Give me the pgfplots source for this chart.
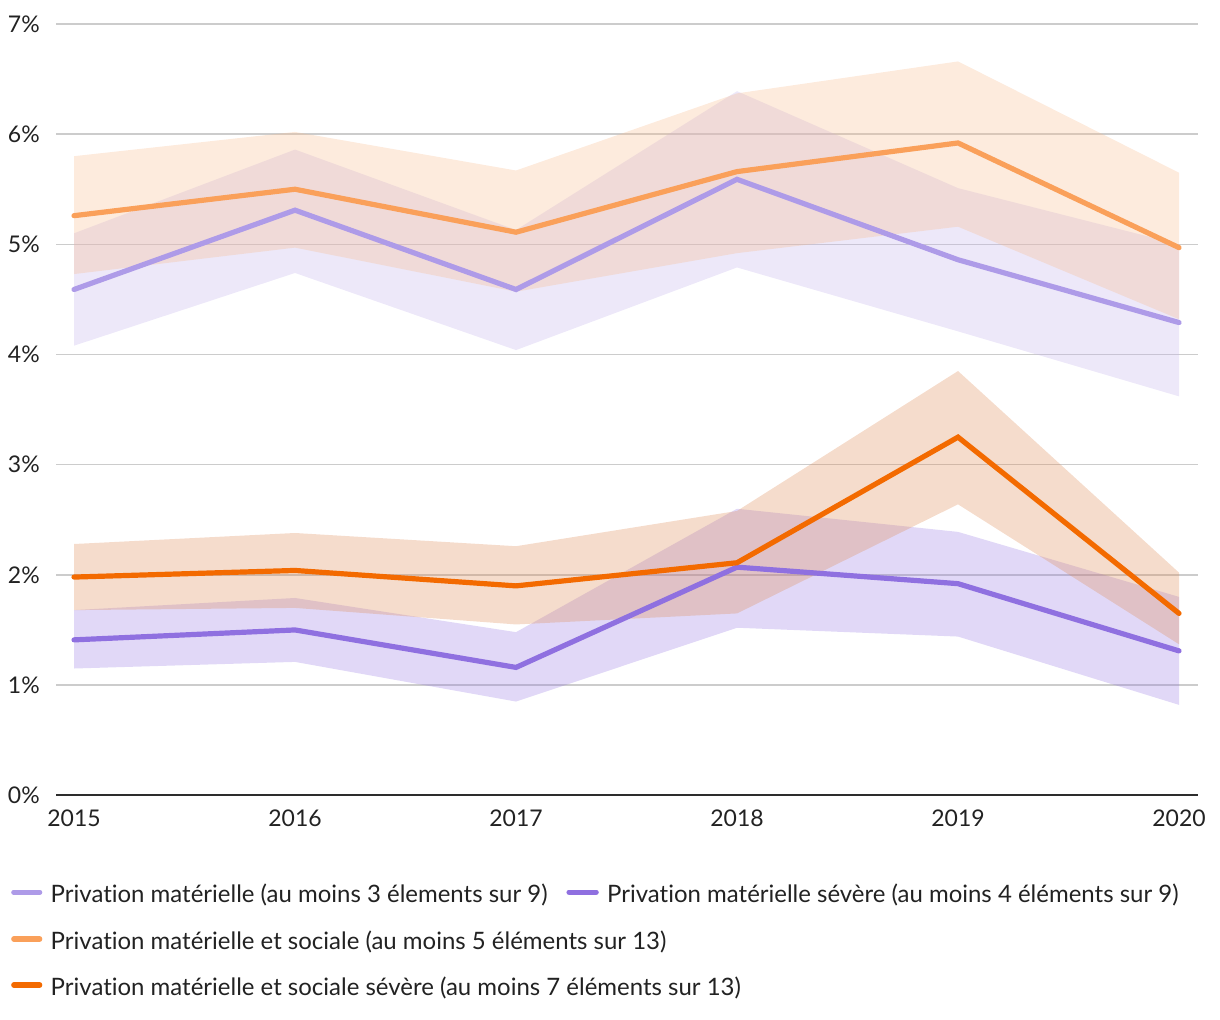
\documentclass[border=0pt]{standalone}
\usepackage{fontspec}
\setmainfont{Lato}[Ligatures={NoCommon,NoRequired,NoContextual}]
\usepackage{pgfplots}
\pgfplotsset{compat=1.18}
\usepackage{pgfplotstable}
\usepgfplotslibrary{fillbetween}

\definecolor{cA}{RGB}{174,155,232}
\definecolor{cB}{RGB}{143,112,224}
\definecolor{cC}{RGB}{250,160,90}
\definecolor{cD}{RGB}{243,106,0}
\definecolor{bA}{RGB}{195,178,235}
\definecolor{bB}{RGB}{143,112,224}
\definecolor{bC}{RGB}{248,188,142}
\definecolor{bD}{RGB}{222,138,85}
\definecolor{gridgray}{RGB}{204,204,204}
\definecolor{txt}{RGB}{34,34,34}

\pgfplotstableread{
year val lo hi
2015 4.59 4.08 5.10
2016 5.31 4.74 5.86
2017 4.59 4.04 5.13
2018 5.59 4.79 6.39
2019 4.86 4.21 5.51
2020 4.29 3.62 5.00
}\tA
\pgfplotstableread{
year val lo hi
2015 5.26 4.73 5.80
2016 5.50 4.97 6.02
2017 5.11 4.57 5.67
2018 5.66 4.92 6.37
2019 5.92 5.16 6.66
2020 4.97 4.32 5.65
}\tC
\pgfplotstableread{
year val lo hi
2015 1.41 1.15 1.68
2016 1.50 1.21 1.79
2017 1.16 0.85 1.48
2018 2.07 1.52 2.60
2019 1.92 1.44 2.39
2020 1.31 0.82 1.80
}\tB
\pgfplotstableread{
year val lo hi
2015 1.98 1.68 2.28
2016 2.04 1.70 2.38
2017 1.90 1.55 2.26
2018 2.11 1.65 2.58
2019 3.25 2.64 3.85
2020 1.65 1.37 2.02
}\tD

\begin{document}
\fontsize{12pt}{14pt}\selectfont
\begin{tikzpicture}
\begin{axis}[
  scale only axis, width=571.5pt, height=386pt,
  at={(0pt,0pt)}, anchor=south west,
  xmin=2014.919, xmax=2020.086, ymin=0, ymax=7,
  axis lines*=left,
  x axis line style={-, draw=txt!95, line width=1.1pt},
  y axis line style={draw=none},
  major tick length=0pt,
  tick style={draw=none},
  xtick={2015,2016,2017,2018,2019,2020},
  ytick={0,1,2,3,4,5,6,7},
  ymajorgrids, grid style={gridgray, line width=0.8pt},
  /pgf/number format/assume math mode=true,
  /pgf/number format/1000 sep={},
  xticklabel style={font=\fontsize{11.5pt}{13pt}\selectfont, text=txt, yshift=-3pt},
  yticklabel style={font=\fontsize{11.5pt}{13pt}\selectfont, text=txt, xshift=-4pt},
  yticklabel={\pgfmathprintnumber{\tick}\%},
  clip=false,
]
% bands
\addplot[draw=none, name path=Ahi] table[x=year,y=hi]{\tA};
\addplot[draw=none, name path=Alo] table[x=year,y=lo]{\tA};
\addplot[bA, fill opacity=0.3, draw=none] fill between[of=Ahi and Alo];
\addplot[draw=none, name path=Chi] table[x=year,y=hi]{\tC};
\addplot[draw=none, name path=Clo] table[x=year,y=lo]{\tC};
\addplot[bC, fill opacity=0.3, draw=none] fill between[of=Chi and Clo];
\addplot[draw=none, name path=Bhi] table[x=year,y=hi]{\tB};
\addplot[draw=none, name path=Blo] table[x=year,y=lo]{\tB};
\addplot[bB, fill opacity=0.27, draw=none] fill between[of=Bhi and Blo];
\addplot[draw=none, name path=Dhi] table[x=year,y=hi]{\tD};
\addplot[draw=none, name path=Dlo] table[x=year,y=lo]{\tD};
\addplot[bD, fill opacity=0.3, draw=none] fill between[of=Dhi and Dlo];
% lines
\addplot[cA, line width=2.6pt, line cap=round, mark=none] table[x=year,y=val]{\tA};
\addplot[cB, line width=2.6pt, line cap=round, mark=none] table[x=year,y=val]{\tB};
\addplot[cC, line width=2.6pt, line cap=round, mark=none] table[x=year,y=val]{\tC};
\addplot[cD, line width=2.6pt, line cap=round, mark=none] table[x=year,y=val]{\tD};
\end{axis}
% legend
\begin{scope}[line width=2.6pt, line cap=round]
\draw[cA] (-21.2pt,-48.5pt) -- (-8.2pt,-48.5pt);
\node[anchor=base west, inner sep=0pt, text=txt] at (-4pt,-53.5pt) {Privation matérielle (au moins 3 élements sur 9)};
\draw[cB] (256.7pt,-48.5pt) -- (270.3pt,-48.5pt);
\node[anchor=base west, inner sep=0pt, text=txt] at (274.5pt,-53.5pt) {Privation matérielle sévère (au moins 4 éléments sur 9)};
\draw[cC] (-21.2pt,-72pt) -- (-8.2pt,-72pt);
\node[anchor=base west, inner sep=0pt, text=txt] at (-4pt,-77pt) {Privation matérielle et sociale (au moins 5 éléments sur 13)};
\draw[cD] (-21.2pt,-95pt) -- (-8.2pt,-95pt);
\node[anchor=base west, inner sep=0pt, text=txt] at (-4pt,-100pt) {Privation matérielle et sociale sévère (au moins 7 éléments sur 13)};
\end{scope}
\path[use as bounding box] (-27.5pt,-112pt) rectangle (582.5pt,398pt);
\end{tikzpicture}
\end{document}
